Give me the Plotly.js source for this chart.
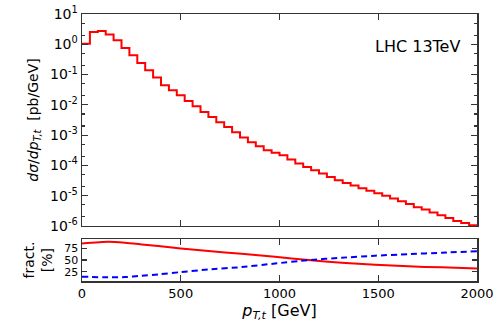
<!DOCTYPE html>
<html>
<head>
<meta charset="utf-8">
<script src="https://cdn.plot.ly/plotly-3.0.1.min.js"></script>
<style>
  html, body { margin: 0; padding: 0; background: #fff; }
  #plot { width: 499px; height: 332px; }
</style>
</head>
<body>
<div id="plot"></div>
<script>
// histogram bin edges (GeV), 40 GeV bins
const binEdges = [0, 40, 80, 120, 160, 200, 240, 280, 320, 360, 400, 440, 480, 520, 560, 600,
  640, 680, 720, 760, 800, 840, 880, 920, 960, 1000, 1040, 1080, 1120, 1160, 1200, 1240,
  1280, 1320, 1360, 1400, 1440, 1480, 1520, 1560, 1600, 1640, 1680, 1720, 1760, 1800,
  1840, 1880, 1920, 1960, 2000];

// dsigma/dpT [pb/GeV], one value per bin
const dsigma = [1.05, 2.55, 2.75, 2.09, 1.36, 0.755, 0.434, 0.241, 0.139, 0.0796,
  0.0444, 0.0303, 0.0207, 0.0134, 0.0090, 0.00583, 0.00399, 0.00267, 0.00187, 0.00125,
  0.000834, 0.000583, 0.000430, 0.000318, 0.000262, 0.000217, 0.000157, 0.000116, 8.9e-5, 6.95e-5,
  5.41e-5, 4.17e-5, 3.25e-5, 2.64e-5, 2.17e-5, 1.77e-5, 1.46e-5, 1.21e-5, 1.0e-5, 8.1e-6,
  6.58e-6, 5.36e-6, 4.17e-6, 3.51e-6, 2.79e-6, 2.27e-6, 1.85e-6, 1.47e-6, 1.26e-6, 1.06e-6];

// log axis tick labels
const yTickVals = [1e-6, 1e-5, 1e-4, 1e-3, 1e-2, 1e-1, 1, 10];
const yTickText = ['10<sup>-6</sup>', '10<sup>-5</sup>', '10<sup>-4</sup>', '10<sup>-3</sup>',
  '10<sup>-2</sup>', '10<sup>-1</sup>', '10<sup>0</sup>', '10<sup>1</sup>'];

// fractions [%]
const fracPt = [0, 133, 218, 302, 386, 500, 640, 808, 977, 1146, 1315, 1484, 1652, 1821, 2000];
const fracRed = [85.7, 89.3, 87.2, 83.6, 80, 75, 69.3, 63.6, 57, 50, 44.4, 40, 36.4, 34.3, 32];
const fracBlue = [14.3, 12.8, 13.4, 16.4, 19.2, 24.1, 29.9, 34.9, 42.5, 49.8, 55, 59.3, 62.7, 65.7, 69];
const fracTicks = [25, 50, 75];

const font = "DejaVu Sans, sans-serif";
const frame = "#333";

const traces = [
  {
    x: binEdges, y: dsigma.concat([dsigma[dsigma.length - 1]]),
    mode: 'lines', line: { shape: 'hv', color: '#ff0000', width: 2 },
    xaxis: 'x', yaxis: 'y', showlegend: false
  },
  {
    x: fracPt, y: fracRed,
    mode: 'lines', line: { shape: 'spline', smoothing: 0.6, color: '#ff0000', width: 2 },
    xaxis: 'x2', yaxis: 'y2', showlegend: false
  },
  {
    x: fracPt, y: fracBlue,
    mode: 'lines', line: { shape: 'spline', smoothing: 0.6, color: '#0000ff', width: 2, dash: '6px,4px' },
    xaxis: 'x2', yaxis: 'y2', showlegend: false
  }
];

const axisCommon = {
  showgrid: false, zeroline: false,
  showline: true, linecolor: frame, linewidth: 1.5, mirror: 'ticks',
  ticks: 'inside', tickcolor: frame, tickwidth: 1.2,
  tickfont: { family: font, size: 13, color: '#000' }
};

const layout = {
  width: 499, height: 332,
  margin: { l: 82, r: 22, t: 14, b: 51 },
  paper_bgcolor: '#fff', plot_bgcolor: '#fff',
  font: { family: font, color: '#000' },
  xaxis: Object.assign({}, axisCommon, {
    domain: [0, 1], anchor: 'y', range: [0, 2000], dtick: 500, ticklen: 6,
    showticklabels: false, matches: 'x2'
  }),
  yaxis: Object.assign({}, axisCommon, {
    domain: [0.206, 1], anchor: 'x', type: 'log', range: [-6, 1],
    tickmode: 'array', tickvals: yTickVals, ticktext: yTickText, ticklen: 6,
    tickfont: { family: font, size: 14, color: '#000' },
    minor: { ticks: 'inside', ticklen: 3, tickcolor: frame, showgrid: false },
    title: { text: '<i>dσ</i>/<i>dp</i><sub><i>T,t</i></sub>  [pb/GeV]', font: { family: font, size: 14 }, standoff: 8 }
  }),
  xaxis2: Object.assign({}, axisCommon, {
    domain: [0, 1], anchor: 'y2', range: [0, 2000], dtick: 500, ticklen: 6,
    title: { text: '<i>p</i><sub><i>T,t</i></sub> [GeV]', font: { family: font, size: 16 }, standoff: 4 }
  }),
  yaxis2: Object.assign({}, axisCommon, {
    domain: [0, 0.157], anchor: 'x2', range: [5, 95], tickmode: 'array', tickvals: fracTicks, ticklen: 5,
    tickfont: { family: font, size: 11, color: '#000' },
    title: { text: 'fract.<br>[%]', font: { family: font, size: 14 }, standoff: 8 }
  }),
  annotations: [{
    text: 'LHC 13TeV', xref: 'paper', yref: 'paper', x: 0.962, y: 0.88,
    xanchor: 'right', yanchor: 'middle', showarrow: false,
    font: { family: font, size: 16, color: '#000' }
  }]
};

Plotly.newPlot('plot', traces, layout, { staticPlot: true });
</script>
</body>
</html>
